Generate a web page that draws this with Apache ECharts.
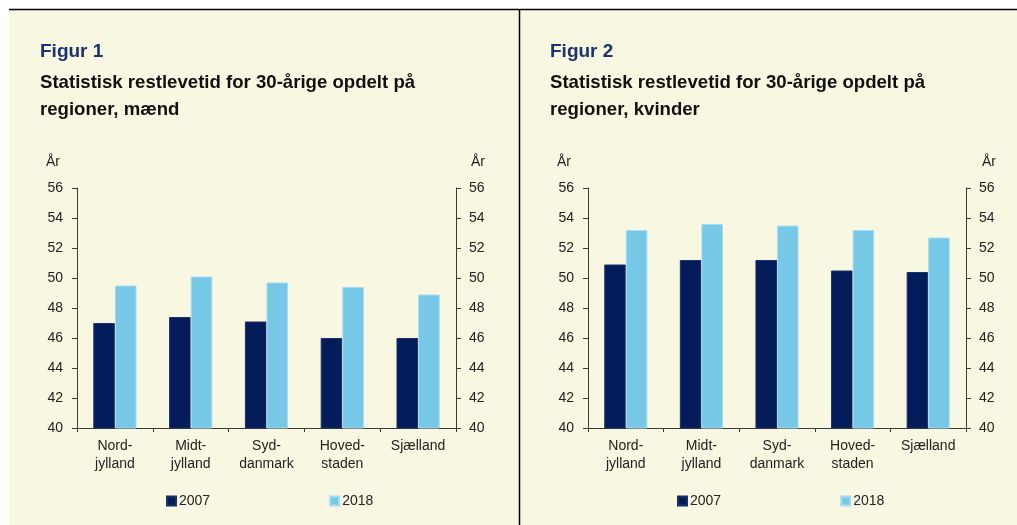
<!DOCTYPE html>
<html>
<head>
<meta charset="utf-8">
<script src="https://cdn.jsdelivr.net/npm/echarts@6/dist/echarts.min.js"></script>
<style>
  html, body { margin: 0; padding: 0; background: #ffffff; }
  #char { width: 1017px; height: 525px; }
</style>
</head>
<body>
<div id="char"></div>
<script>
// regioner og restlevetid (år)
var regioner = ['Nord-\njylland', 'Midt-\njylland', 'Syd-\ndanmark', 'Hoved-\nstaden', 'Sjælland'];
var aar = ['2007', '2018'];
var maend2007 = [47.0, 47.4, 47.1, 46.0, 46.0];
var maend2018 = [49.5, 50.1, 49.7, 49.4, 48.9];
var kvinder2007 = [50.9, 51.2, 51.2, 50.5, 50.4];
var kvinder2018 = [53.2, 53.6, 53.5, 53.2, 52.7];
var yTicks = [40, 42, 44, 46, 48, 50, 52, 54, 56];

var fontFam = '"Liberation Sans", Arial, sans-serif';
var axisColor = '#3a3a3a';
var navy = '#041c5a';
var lightBlue = '#76c8e6';

function yAxisDef(gridIndex, pos, margin) {
  return {
    type: 'value',
    gridIndex: gridIndex,
    position: pos,
    min: yTicks[0],
    max: yTicks[yTicks.length - 1],
    interval: 2,
    axisLine: { show: true, lineStyle: { color: axisColor, width: 1 } },
    axisTick: { show: true, inside: false, length: 5, lineStyle: { color: axisColor } },
    axisLabel: { color: '#222', fontSize: 14, fontFamily: fontFam, margin: margin },
    splitLine: { show: false }
  };
}

function xAxisDef(gridIndex) {
  return {
    type: 'category',
    gridIndex: gridIndex,
    data: regioner,
    axisLine: { show: true, lineStyle: { color: axisColor, width: 1 } },
    axisTick: { show: true, inside: false, length: 4, alignWithLabel: false, lineStyle: { color: axisColor } },
    axisLabel: { color: '#222', fontSize: 14, fontFamily: fontFam, margin: 9, lineHeight: 18, interval: 0 }
  };
}

function barSerie(name, idx, data, color, border) {
  return {
    name: name,
    type: 'bar',
    xAxisIndex: idx,
    yAxisIndex: idx * 2,
    data: data,
    barGap: '0%',
    barCategoryGap: '43%',
    itemStyle: { color: color, borderColor: border, borderWidth: 1 },
    animation: false
  };
}

function panelTexts(x, fig, sub) {
  return [
    { type: 'text', left: x, top: 42, style: { text: fig, fill: '#1b3370', font: 'bold 19px ' + fontFam } },
    { type: 'text', left: x, top: 69, style: { text: sub, fill: '#111', font: 'bold 18.6px ' + fontFam, lineHeight: 27 } }
  ];
}

function legendDef(x) {
  return {
    left: x, top: 494, padding: 0, itemWidth: 9, itemHeight: 9, itemGap: 119,
    icon: 'rect', data: aar,
    textStyle: { fontSize: 14, fontFamily: fontFam, color: '#222', padding: [0, 0, 0, -2] }
  };
}

var chart = echarts.init(document.getElementById('char'));
var option = {
  backgroundColor: '#ffffff',
  animation: false,
  graphic: [
    { type: 'rect', shape: { x: 9, y: 9, width: 1008, height: 516 }, style: { fill: '#f8f7e1' }, z: -10 },
    { type: 'line', shape: { x1: 9, y1: 9.5, x2: 1017, y2: 9.5 }, style: { stroke: '#000', lineWidth: 1.5 } },
    { type: 'line', shape: { x1: 519.5, y1: 9, x2: 519.5, y2: 525 }, style: { stroke: '#000', lineWidth: 1.5 } },
    { type: 'text', left: 46, top: 155, style: { text: 'År', fill: '#222', font: '14px ' + fontFam } },
    { type: 'text', left: 471, top: 155, style: { text: 'År', fill: '#222', font: '14px ' + fontFam } },
    { type: 'text', left: 557, top: 155, style: { text: 'År', fill: '#222', font: '14px ' + fontFam } },
    { type: 'text', left: 982, top: 155, style: { text: 'År', fill: '#222', font: '14px ' + fontFam } }
  ].concat(
    panelTexts(40, 'Figur 1', 'Statistisk restlevetid for 30-årige opdelt på\nregioner, mænd'),
    panelTexts(550, 'Figur 2', 'Statistisk restlevetid for 30-årige opdelt på\nregioner, kvinder')
  ),
  legend: [legendDef(166), legendDef(677)],
  grid: [
    { left: 77, right: 561, top: 188, bottom: 97 },
    { left: 588, right: 51, top: 188, bottom: 97 }
  ],
  xAxis: [xAxisDef(0), xAxisDef(1)],
  yAxis: [
    yAxisDef(0, 'left', 14), yAxisDef(0, 'right', 13),
    yAxisDef(1, 'left', 14), yAxisDef(1, 'right', 13)
  ],
  series: [
    barSerie('2007', 0, maend2007, navy, '#1c3068'),
    barSerie('2018', 0, maend2018, lightBlue, '#a6dcf0'),
    barSerie('2007', 1, kvinder2007, navy, '#1c3068'),
    barSerie('2018', 1, kvinder2018, lightBlue, '#a6dcf0')
  ]
};
chart.setOption(option);
</script>
</body>
</html>
